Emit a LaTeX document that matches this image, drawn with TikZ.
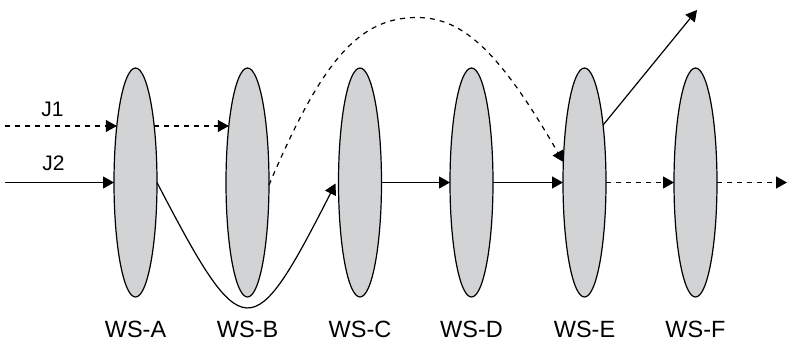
\documentclass[tikz,border=0pt]{standalone}
\usepackage{fontspec}
\setmainfont{Liberation Sans}
\usetikzlibrary{arrows.meta,shapes.geometric,calc}
\definecolor{wsgray}{RGB}{209,211,212}
\begin{document}
\begin{tikzpicture}[x=1pt,y=-1pt,
  station/.style={ellipse, draw=black, fill=wsgray, line width=1.2pt,
    minimum width=43pt, minimum height=229pt, inner sep=0pt, outer sep=0pt},
  flow/.style={line width=1.2pt, -{Triangle[length=11pt,width=12pt]}},
  jobdash/.style={dash pattern=on 5pt off 5pt},
  wslabel/.style={font=\fontsize{23.5}{28}\selectfont, anchor=base, inner sep=0pt},
  jlabel/.style={font=\fontsize{21}{25}\selectfont, anchor=base, inner sep=0pt}]
\useasboundingbox (0,0) rectangle (788,341);

% work stations
\node[station] (A) at (135.5,182.5) {};
\node[station] (B) at (247.5,182.5) {};
\node[station] (C) at (360,182.5) {};
\node[station] (D) at (471.5,182.5) {};
\node[station] (E) at (584.5,182.5) {};
\node[station] (F) at (695.5,182.5) {};

% station names
\node[wslabel] (la) at (135.5,337) {WS-A};
\node[wslabel] (lb) at (247.5,337) {WS-B};
\node[wslabel] (lc) at (360,337) {WS-C};
\node[wslabel] (ld) at (471.5,337) {WS-D};
\node[wslabel] (le) at (584.5,337) {WS-E};
\node[wslabel] (lf) at (695.5,337) {WS-F};

% job names
\node[jlabel] (j1) at (52.5,116) {J1};
\node[jlabel] (j2) at (53.5,170) {J2};

% free ends and the top of the J1 arc
\coordinate (j1s) at (5,126);
\coordinate (j2s) at (5,182.5);
\coordinate (eout) at (697,10);
\coordinate (fout) at (787,182.5);
\coordinate (arctop) at (417,17.5);

% job J1 (dashed)
\draw[flow,jobdash] (j1s) -- ($(A.center)+(-18.7,-56.5)$);
\draw[flow,jobdash] ($(A.center)+(18.7,-56.5)$) -- ($(B.center)+(-18.7,-56.5)$);
\draw[flow,jobdash] ($(B.center)+(21.5,2.5)$)
   .. controls (322,60) and (359,17.5) .. (arctop)
   .. controls (464,17.5) and (500.8,53.7) .. ($(E.center)+(-21.15,-20.5)$);
\draw[flow,jobdash] (E.east) -- (F.west);
\draw[flow,jobdash] (F.east) -- (fout);

% job J2 (solid)
\draw[flow] (j2s) -- (A.west);
\draw[flow] (A.east) .. controls (243.2,348) and (251.7,348) .. ($(C.west)+(-3,1)$);
\draw[flow] (C.east) -- (D.west);
\draw[flow] (D.east) -- (E.west);
\draw[flow] ($(E.center)+(18.6,-57.5)$) -- (eout);
\end{tikzpicture}
\end{document}
